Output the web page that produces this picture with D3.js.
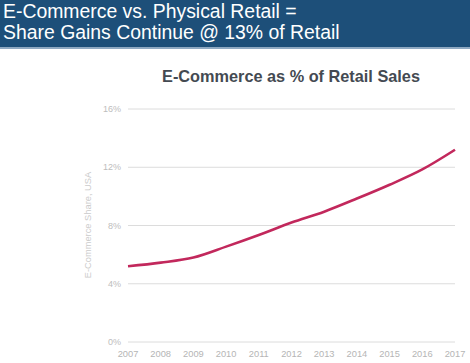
<!DOCTYPE html>
<html>
<head>
<meta charset="utf-8">
<script src="https://cdn.jsdelivr.net/npm/d3@7"></script>
<style>
  body { margin: 0; background: #fff; }
  svg { display: block; font-family: "Liberation Sans", Arial, sans-serif; }
</style>
</head>
<body>
<svg id="chart" width="470" height="363"></svg>
<script>
// chart data
var years = [2007, 2008, 2009, 2010, 2011, 2012, 2013, 2014, 2015, 2016, 2017];
var share = [5.2, 5.45, 5.8, 6.55, 7.35, 8.2, 8.95, 9.85, 10.8, 11.85, 13.2];
var yTicks = [0, 4, 8, 12, 16];
var headerLines = ['E-Commerce vs. Physical Retail =', 'Share Gains Continue @ 13% of Retail'];
var chartTitle = 'E-Commerce as % of Retail Sales';
var yTitle = 'E-Commerce Share, USA';

var svg = d3.select('#chart');

// header band
svg.append('rect')
   .attr('x', 0).attr('y', 0)
   .attr('width', 470).attr('height', 48)
   .attr('fill', '#1d4f79');
svg.append('rect')
   .attr('x', 0).attr('y', 47)
   .attr('width', 470).attr('height', 2)
   .attr('fill', '#8fa9c2');
svg.selectAll('text.header')
   .data(headerLines)
   .enter().append('text')
   .attr('class', 'header')
   .attr('x', 3)
   .attr('y', function(d, i) { return 18 + i * 21; })
   .attr('fill', '#ffffff')
   .attr('font-size', 19.4)
   .text(function(d) { return d; });

// chart title
svg.append('text')
   .attr('x', 291).attr('y', 82)
   .attr('text-anchor', 'middle')
   .attr('fill', '#444a52')
   .attr('font-size', 16.3)
   .attr('font-weight', 'bold')
   .text(chartTitle);

// scales
var x = d3.scaleLinear().domain([2007, 2017]).range([128, 455]);
var y = d3.scaleLinear().domain([0, 16]).range([342, 109]);

// grid lines
svg.selectAll('line.grid')
   .data(yTicks)
   .enter().append('line')
   .attr('class', 'grid')
   .attr('x1', 128).attr('x2', 455)
   .attr('y1', function(d) { return y(d); })
   .attr('y2', function(d) { return y(d); })
   .attr('stroke', '#dcdcdc')
   .attr('stroke-width', 1);

// y tick labels
svg.selectAll('text.ytick')
   .data(yTicks)
   .enter().append('text')
   .attr('class', 'ytick')
   .attr('x', 121)
   .attr('y', function(d) { return y(d) + 3; })
   .attr('text-anchor', 'end')
   .attr('fill', '#bdbdbd')
   .attr('font-size', 9)
   .text(function(d) { return d + '%'; });

// x tick labels
svg.selectAll('text.xtick')
   .data(years)
   .enter().append('text')
   .attr('class', 'xtick')
   .attr('x', function(d) { return x(d); })
   .attr('y', 357)
   .attr('text-anchor', 'middle')
   .attr('fill', '#b5b5b5')
   .attr('font-size', 9.3)
   .text(function(d) { return d; });

// y axis title
svg.append('text')
   .attr('transform', 'translate(91,225) rotate(-90)')
   .attr('text-anchor', 'middle')
   .attr('fill', '#cccccc')
   .attr('font-size', 9.3)
   .text(yTitle);

// series line
var line = d3.line()
   .x(function(d, i) { return x(years[i]); })
   .y(function(d) { return y(d); })
   .curve(d3.curveMonotoneX);
svg.append('path')
   .datum(share)
   .attr('d', line)
   .attr('fill', 'none')
   .attr('stroke', '#c2285c')
   .attr('stroke-width', 2.6)
   .attr('stroke-linejoin', 'round');
</script>
</body>
</html>
